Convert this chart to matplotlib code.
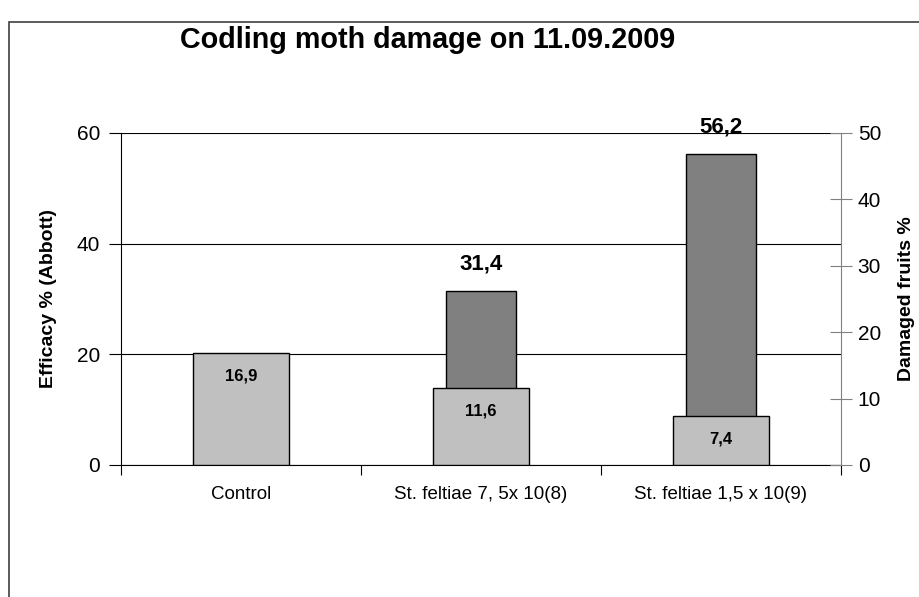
import numpy as np
import matplotlib.pyplot as plt
from matplotlib.patches import Rectangle

plt.rcParams['font.family'] = ['Liberation Sans', 'DejaVu Sans']

categories = ["Control", "St. feltiae 7, 5x 10(8)", "St. feltiae 1,5 x 10(9)"]
efficacy = [0.0, 31.4, 56.2]          # left axis, dark bars
damaged = [16.9, 11.6, 7.4]           # right axis, light bars
efficacy_labels = ["", "31,4", "56,2"]
damaged_labels = ["16,9", "11,6", "7,4"]

W, H = 919, 597
fig = plt.figure(figsize=(W / 100, H / 100), dpi=100)

# outer frame (chart area border, clipped at right/bottom)
fig.patches.append(Rectangle((9 / W, -0.1), 1.2, (H - 22) / H + 0.1,
                             transform=fig.transFigure, fill=False,
                             edgecolor='#404040', linewidth=1.2))

ax = fig.add_axes([121 / W, (H - 465) / H, 720 / W, 332 / H])
ax2 = ax.twinx()

x = np.arange(len(categories))

# dark bars: efficacy
for xi, v in zip(x, efficacy):
    if v > 0:
        ax.bar(xi, v, width=0.29, color='#808080', edgecolor='black', linewidth=1.0, zorder=2)
for xi, v, lab in zip(x, efficacy, efficacy_labels):
    if lab:
        ax.text(xi, v + 3.0, lab, ha='center', va='bottom', fontsize=16, fontweight='bold')

# light bars: damaged fruits
ax2.bar(x, damaged, width=0.40, color='#C0C0C0', edgecolor='black', linewidth=1.0)
for xi, v, lab in zip(x, damaged, damaged_labels):
    ax2.text(xi, v - 2.4, lab, ha='center', va='top', fontsize=12, fontweight='bold')

ax.set_xlim(-0.5, 2.5)
ax.set_ylim(0, 60)
ax2.set_ylim(0, 50)
ax.set_yticks([0, 20, 40, 60])
ax2.set_yticks([0, 10, 20, 30, 40, 50])
ax.yaxis.grid(True, color='black', linewidth=0.8, zorder=0)
ax.set_axisbelow(True)

ax.set_xticks([-0.5, 0.5, 1.5, 2.5])
ax.set_xticklabels([])
ax.set_xticks(x, minor=True)
ax.set_xticklabels(categories, minor=True, fontsize=13.5)
ax.tick_params(axis='x', which='major', length=7, direction='out', color='black')
ax.tick_params(axis='x', which='minor', length=0, pad=15)

ax.tick_params(axis='y', length=9, direction='out', labelsize=15, pad=6)
ax2.tick_params(axis='y', length=16, direction='inout', labelsize=15, pad=4, color='#808080')

for sp in ['top', 'right']:
    ax.spines[sp].set_visible(False)
ax2.spines['top'].set_visible(False)
ax2.spines['left'].set_visible(False)
ax2.spines['bottom'].set_visible(False)
ax2.spines['right'].set_color('#808080')
ax.spines['left'].set_color('black')
ax.spines['bottom'].set_color('black')

ax.set_ylabel("Efficacy % (Abbott)", fontsize=14, fontweight='bold', labelpad=14)
ax2.set_ylabel("Damaged fruits %", fontsize=14, fontweight='bold', rotation=90, labelpad=12)

fig.text(428 / W, (H - 40) / H, "Codling moth damage on 11.09.2009",
         ha='center', va='center', fontsize=20.7, fontweight='bold')

fig.savefig("out.png", dpi=100)
